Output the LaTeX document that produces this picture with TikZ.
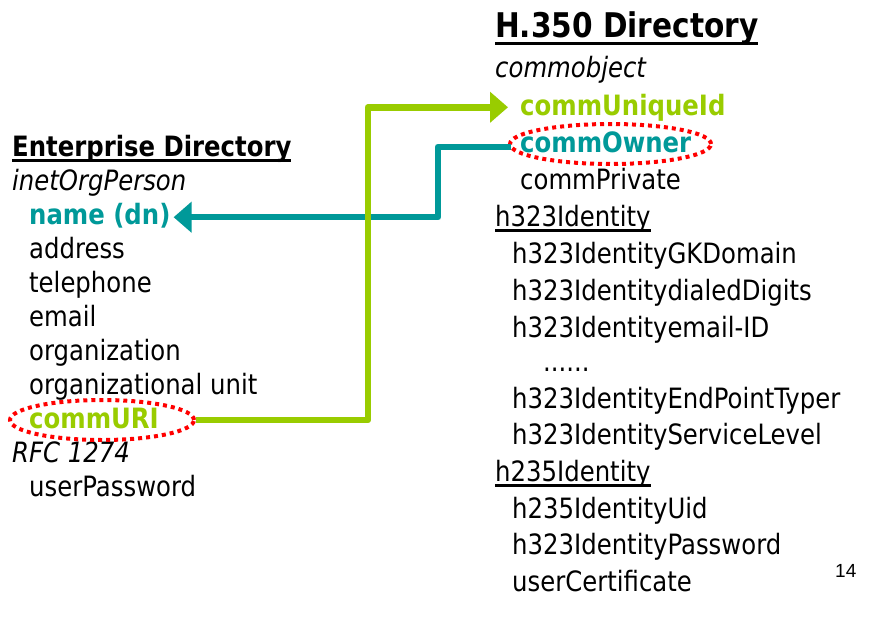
\documentclass[tikz,border=0pt]{standalone}
\usepackage{fontspec}
\setmainfont{DejaVu Sans}[FakeStretch=0.87]
\newfontfamily\pagenumfont{Liberation Sans}
\usetikzlibrary{arrows.meta, shapes.geometric, calc}
\definecolor{hgreen}{HTML}{99CC00}
\definecolor{hteal}{HTML}{009999}
\definecolor{hred}{HTML}{FF0000}
\tikzset{
  item/.style    = {anchor=base west, inner sep=0pt, font=\fontsize{28}{30}\selectfont},
  cls/.style     = {item, font=\fontsize{28}{30}\selectfont\itshape},
  key/.style     = {item, font=\fontsize{28}{30}\selectfont\bfseries},
  bighead/.style = {item, font=\fontsize{34}{36}\selectfont\bfseries},
  ring/.style    = {ellipse, draw=hred, line width=4pt, dash pattern=on 4pt off 4pt,
                    inner sep=0pt},
  link/.style    = {line width=6.5pt, line join=round,
                    -{Triangle[length=18pt, width=30pt]}},
}
\newcommand{\ulin}[1]{\leavevmode\setbox0=\hbox{#1}%
  \rlap{\rule[-0.2em]{\wd0}{0.085em}}\box0}

\begin{document}
\begin{tikzpicture}[x=1pt, y=-1pt]
  \fill[white] (0,0) rectangle (890,623);
  \useasboundingbox (0,0) rectangle (890,623);

  % Enterprise Directory
  \node[key] (ent) at (12,156) {\ulin{Enterprise Directory}};
  \node[cls] (inet) at (12,190) {inetOrgPerson};
  \node[key, text=hteal] (dn) at (29,224) {name (dn)};
  \foreach \y/\t [count=\i] in {258/address, 292/telephone, 326/email,
      360/organization, 394/organizational unit}
    \node[item] (ea\i) at (29,\y) {\t};
  \node[key, text=hgreen] (uri) at (29,428) {commURI};
  \node[cls] (rfc) at (12,462) {RFC 1274};
  \node[item] (upw) at (29,496) {userPassword};

  % H.350 Directory
  \node[bighead] (h350) at (495,38) {\ulin{H.350 Directory}};
  \node[cls] (cobj) at (495,78) {commobject};
  \node[key, text=hgreen] (uid) at (520,115) {commUniqueId};
  \node[key, text=hteal] (owner) at (520,152) {commOwner};
  \node[item] (cpriv) at (520,189) {commPrivate};
  \node[item] (h323) at (495,226) {\ulin{h323Identity}};
  \foreach \y/\t [count=\i] in {263/h323IdentityGKDomain, 300/h323IdentitydialedDigits,
      337/h323Identityemail-ID, 408/h323IdentityEndPointTyper,
      444/h323IdentityServiceLevel}
    \node[item] (ha\i) at (512,\y) {\t};
  \node[item] (dots) at (543,371) {......};
  \node[item] (h235) at (495,481) {\ulin{h235Identity}};
  \foreach \y/\t [count=\i] in {518/h235IdentityUid, 554/h323IdentityPassword,
      591/userCertificate}
    \node[item] (hb\i) at (512,\y) {\t};

  \node[anchor=base west, inner sep=0pt, font=\pagenumfont\fontsize{19}{21}\selectfont]
    (pnum) at (835,577) {14};

  % red dotted rings
  \node[ring, minimum width=184pt, minimum height=40pt] (uriring) at (102,420) {};
  \node[ring, minimum width=201pt, minimum height=40pt] (ownring) at (610.5,144) {};

  % connectors
  \coordinate (tx) at (438,0);
  \coordinate (gx) at (368,0);
  \coordinate (dnend) at ([shift={(3pt,-2pt)}]dn.east);
  \draw[link, hteal] ([shift={(-9pt,-5pt)}]owner.west) -| (tx |- dnend) -- (dnend);
  \draw[link, hgreen] (uriring.east) -| (gx |- uid.west) -- ([xshift=-12pt]uid.west);
\end{tikzpicture}
\end{document}
